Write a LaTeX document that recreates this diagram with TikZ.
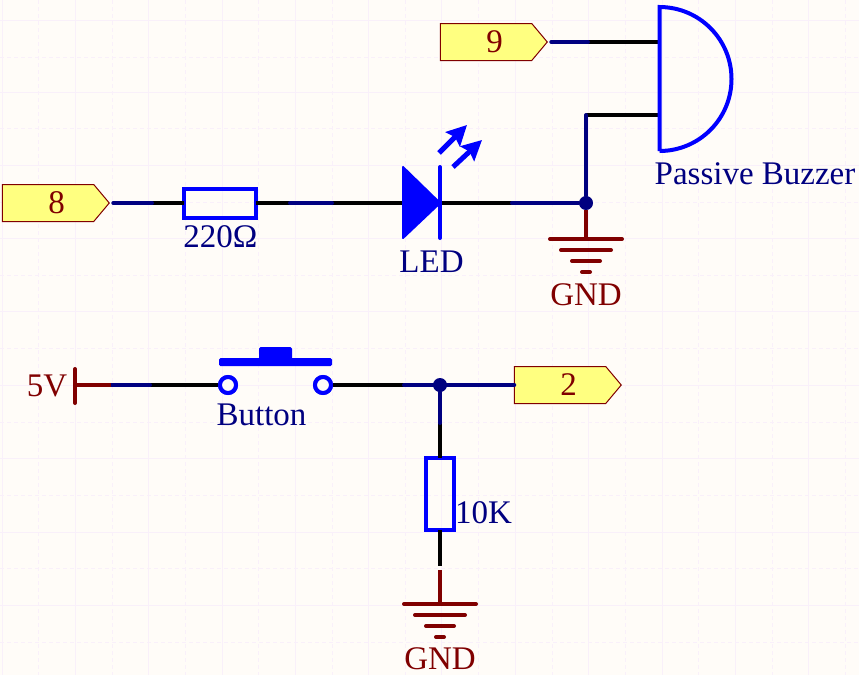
\documentclass[tikz,border=0pt]{standalone}
\usepackage{fontspec}
\setmainfont{Liberation Serif}
\usepackage{tikz}
\usetikzlibrary{arrows.meta,shapes.symbols}
\definecolor{paper}{HTML}{FFFCF8}
\definecolor{gridline}{HTML}{F9F0FA}
\definecolor{netblue}{HTML}{000080}
\definecolor{partblue}{HTML}{0000FF}
\definecolor{pwrred}{HTML}{800000}
\definecolor{portfill}{HTML}{FFFF80}
\tikzstyle{wire} = [draw=netblue,line width=4pt,line cap=round]
\tikzstyle{pin} = [draw=black,line width=4pt]
\tikzstyle{pwr} = [draw=pwrred,line width=4pt,line cap=round]
\tikzstyle{part} = [draw=partblue,line width=4pt,line cap=round]
\tikzstyle{res} = [draw=partblue,line width=4pt,fill=none,inner sep=0pt,outer sep=0pt]
\tikzstyle{dot} = [circle,fill=netblue,inner sep=0pt,minimum size=14pt]
\tikzstyle{contact} = [circle,draw=partblue,line width=4pt,fill=paper,inner sep=0pt,minimum size=16pt]
\tikzstyle{port} = [signal,signal to=east,signal pointer angle=100,draw=pwrred,line width=1pt,fill=portfill,text=pwrred,
	inner sep=0pt,outer sep=0pt,minimum width=107pt,minimum height=37pt,font=\fontsize{33}{33}\selectfont]
\tikzstyle{note} = [anchor=base,inner sep=0pt,text=netblue,font=\fontsize{33}{33}\selectfont]
\tikzstyle{pwrnote} = [note,text=pwrred]
\begin{document}
\begin{tikzpicture}[x=1pt,y=-1pt]
		\useasboundingbox[fill=paper] (0,0) rectangle (859,675);
		% Sheet grid first
		\foreach \x in {2,75,148,222,295,368,441,515,588,662,735,808}
		\draw[gridline,line width=1pt] (\x,0) -- (\x,675);
		\foreach \x in {38,112,185,258,332,405,478,552,625,698,772,845}
		\draw[gridline,line width=1pt,dash pattern=on 4pt off 3pt] (\x,0) -- (\x,675);
		\foreach \y in {20,92,165,238,311,385,458,532,605}
		\draw[gridline,line width=1pt] (0,\y) -- (859,\y);
		\foreach \y in {57,128,202,275,348,422,495,568,642}
		\draw[gridline,line width=1pt,dash pattern=on 4pt off 3pt] (0,\y) -- (859,\y);
		
		% Ports
		\foreach \pos/\name/\text in {
			{(48,203)/p8/8}, {(486,42)/p9/9}, {(560,385)/p2/2}}
		\node[port] (\name) at \pos {\hspace*{17pt}\text};
		
		% Resistors
		\node[res, minimum width=72pt, minimum height=29pt] (r1) at (220,203) {};
		\node[res, minimum width=28pt, minimum height=72pt] (r2) at (440,494) {};
		
		% Joints along the nets
		\foreach \pos/\name in {
			{(152,203)/a1}, {(290,203)/a2}, {(332,203)/a3}, {(402,203)/ledin}, {(440,203)/ledout}, {(512,203)/a4},
			{(588,42)/b1}, {(659,42)/b2}, {(586,115)/b3}, {(659,115)/b4},
			{(75,385)/c0}, {(111,385)/c1}, {(150,385)/c2}, {(404,385)/c3},
			{(440,423)/d1}, {(440,566)/d2}}
		\path \pos coordinate (\name);
		
		\node[dot] (j1) at (586,203) {};
		\node[dot] (j2) at (440,385) {};
		\node[contact] (s1) at (228,385) {};
		\node[contact] (s2) at (323,385) {};
		
		% Connect with pins and wires
		\foreach \source/\dest in {a1/r1.west, r1.east/a2, a3/ledin, ledout/a4, b1/b2, b3/b4, c2/s1, s2/c3, d1/r2.north, r2.south/d2}
		\path[pin] (\source) -- (\dest);
		\foreach \source/\dest in {a4/j1, j1/b3, c1/c2, c3/p2.west, j2/d1, a2/a3}
		\path[wire] (\source) -- (\dest);
		\path[wire] ([xshift=4pt]p8.east) -- (a1);
		\path[wire] ([xshift=4pt]p9.east) -- (b1);
		\path[pwr, line cap=butt] (c0) -- (c1);
		
		% Redraw the contacts over their pins
		\node[contact] at (s1) {};
		\node[contact] at (s2) {};
		
		% LED
		\fill[partblue, draw=partblue, line width=2pt, line join=round] (403,167) -- (403,238) -- (ledout) -- cycle;
		\draw[part] (440,167) -- (440,238);
		\foreach \source/\dest in {{(439,153)/(467,125)}, {(453,167)/(482,140)}}
		\draw[partblue, line width=5pt, -{Stealth[length=20pt,width=20pt,inset=3pt]}] \source -- \dest;
		
		% Buzzer
		\draw[part, line join=miter, line cap=butt] (659.5,151) -- (659.5,7) arc[start angle=-90, end angle=90, radius=72];
		
		% Button
		\fill[partblue, rounded corners=1.5pt] (219,358) rectangle (332,366);
		\fill[partblue, rounded corners=1.5pt] (259,347) rectangle (292,360);
		
		% Power and ground
		\draw[pwr, line cap=butt] (j1) -- (586,239);
		\draw[pwr, line cap=butt] (440,570) -- (440,604);
		\draw[pwr] (75,369) -- (75,403);
		\foreach \x/\y in {586/239, 440/604}{
			\draw[pwr] (\x-36,\y) -- (\x+36,\y);
			\draw[pwr] (\x-25,\y+11) -- (\x+25,\y+11);
			\draw[pwr] (\x-14,\y+22) -- (\x+14,\y+22);
			\draw[pwr] (\x-4,\y+33) -- (\x+4,\y+33);
		}
		
		% Labels
		\foreach \pos/\name/\text in {
			{(755,184)/t1/Passive Buzzer}, {(431.5,272)/t2/LED}, {(220.5,247)/t3/220Ω}, {(261.5,425)/t4/Button}, {(483.5,523)/t5/10K}}
		\node[note] (\name) at \pos {\text};
		\foreach \pos/\name/\text in {
			{(586,305)/t6/GND}, {(440,669)/t7/GND}, {(47,396)/t8/5V}}
		\node[pwrnote] (\name) at \pos {\text};
\end{tikzpicture}
\end{document}
